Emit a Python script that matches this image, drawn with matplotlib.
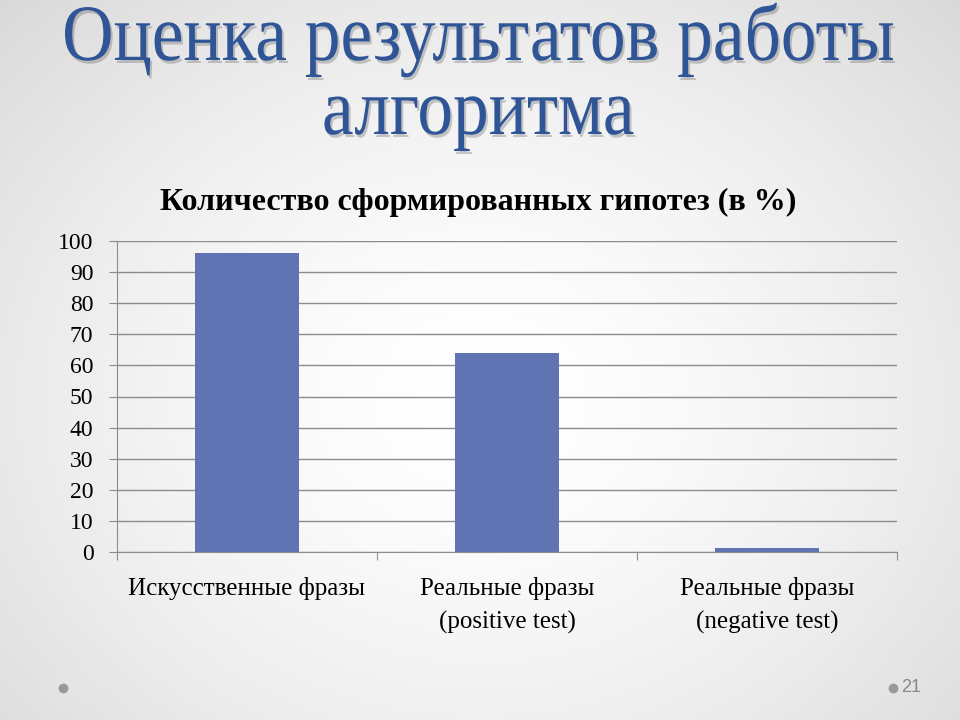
import numpy as np
import matplotlib
matplotlib.use("Agg")
import matplotlib.pyplot as plt
import matplotlib.transforms as mtransforms
from matplotlib.textpath import TextPath
from matplotlib.patches import PathPatch
from matplotlib.font_manager import FontProperties

# данные
categories = ["Искусственные фразы", "Реальные фразы\n(positive test)", "Реальные фразы\n(negative test)"]
values = [96, 64, 1.3]
yticks = [0, 10, 20, 30, 40, 50, 60, 70, 80, 90, 100]

title_lines = ["Оценка результатов работы", "алгоритма"]
chart_title = "Количество сформированных гипотез (в %)"
page_num = "21"

plt.rcParams['font.family'] = ['Liberation Serif', 'DejaVu Serif']

fig = plt.figure(figsize=(9.6, 7.2), dpi=100)

# фон слайда: радиальный градиент
bg = fig.add_axes([0, 0, 1, 1])
yy, xx = np.mgrid[0:720, 0:960]
r = np.sqrt(((xx - 480) / 620.0) ** 2 + ((yy - 400) / 520.0) ** 2)
shade = 1.0 - 0.13 * np.clip(r, 0, 1.3) ** 1.6
bg.imshow(np.dstack([shade] * 3), extent=[0, 960, 720, 0], aspect='auto')
bg.set_xlim(0, 960)
bg.set_ylim(720, 0)
bg.axis('off')


def condensed_text(ax, s, cx, baseline, size, sx, color):
    # текст как контур, сжатый по горизонтали (узкий шрифт заголовка)
    fp = FontProperties(family='Liberation Serif')
    tp = TextPath((0, 0), s, size=size, prop=fp)
    ext = tp.get_extents()
    tr = mtransforms.Affine2D().translate(-(ext.x0 + ext.width / 2), 0).scale(sx, -1)
    path = tr.transform_path(tp)
    sh = mtransforms.Affine2D().translate(cx + 2, baseline + 3).transform_path(path)
    ax.add_patch(PathPatch(sh, facecolor='#555555', edgecolor='none', alpha=0.3))
    main = mtransforms.Affine2D().translate(cx, baseline).transform_path(path)
    ax.add_patch(PathPatch(main, facecolor=color, edgecolor='none'))


# ширина первой строки ~828 px
fp0 = FontProperties(family='Liberation Serif')
w0 = TextPath((0, 0), title_lines[0], size=80, prop=fp0).get_extents().width
sx = 828.0 / w0
condensed_text(bg, title_lines[0], 479, 60, 80, sx, '#2F5597')
condensed_text(bg, title_lines[1], 479, 134, 80, sx, '#2F5597')

# нижний колонтитул
bg.plot([63, 893], [688, 688], 'o', color='#999999', markersize=6, linestyle='none')
bg.text(901, 688, page_num, ha='left', va='center', fontsize=13, color='#888888',
        family=['Liberation Sans', 'DejaVu Sans'])

# диаграмма
ax = fig.add_axes([117 / 960, 1 - 552 / 720, 780 / 960, 311 / 720])
ax.patch.set_alpha(0)
x = np.arange(len(categories))
ax.bar(x, values, width=0.4, color='#6074B4', zorder=3)
ax.set_xlim(-0.5, 2.5)
ax.set_ylim(0, 100)
ax.set_yticks(yticks)
ax.yaxis.grid(True, color='#8C8C8C', linewidth=1, zorder=0)
for s in ['top', 'right']:
    ax.spines[s].set_visible(False)
ax.spines['left'].set_color('#8C8C8C')
ax.spines['bottom'].set_color('#8C8C8C')
ax.tick_params(axis='y', length=6, color='#8C8C8C', labelsize=17, pad=11)
ax.set_xticks([-0.5, 0.5, 1.5, 2.5])
ax.set_xticklabels([])
ax.tick_params(axis='x', length=6, color='#8C8C8C')
ax.set_xticks(x, minor=True)
ax.set_xticklabels(categories, minor=True, fontsize=18, linespacing=1.6)
ax.tick_params(axis='x', which='minor', length=0, pad=18)
ax.set_title(chart_title, fontsize=23, fontweight='bold', pad=22, x=0.463)

fig.savefig("out.png", dpi=100)
